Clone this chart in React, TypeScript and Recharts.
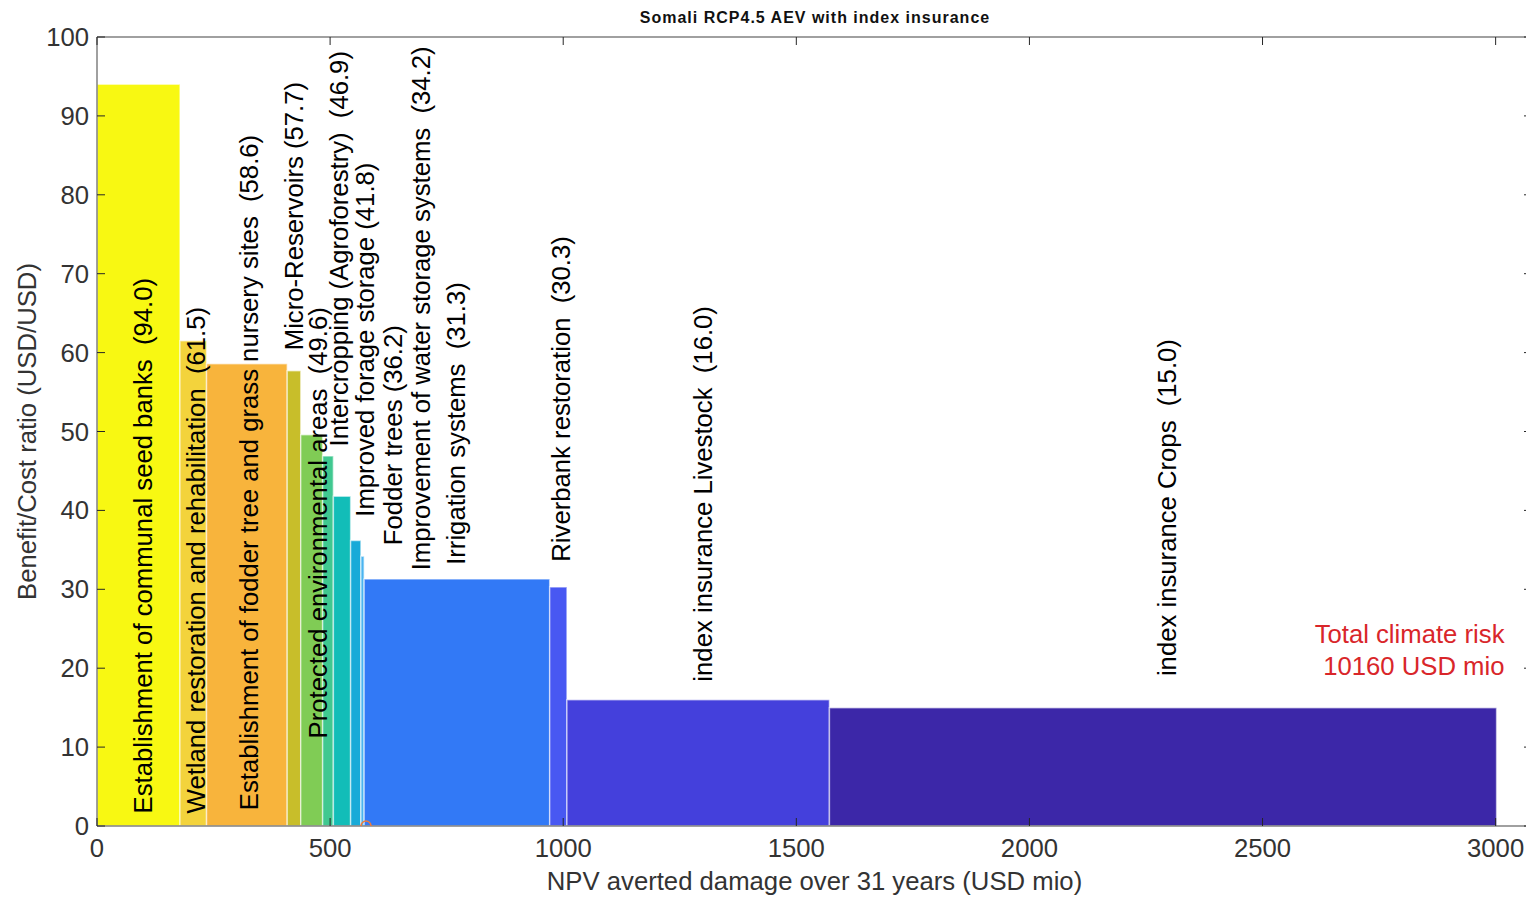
import React from 'react';
import { ComposedChart, XAxis, YAxis, ReferenceArea, ReferenceLine, Scatter } from 'recharts';

const title = 'Somali RCP4.5 AEV with index insurance';

// measures, ordered by benefit/cost ratio
const measures = [
  'Establishment of communal seed banks  (94.0)',
  'Wetland restoration and rehabilitation  (61.5)',
  'Establishment of fodder tree and grass nursery sites  (58.6)',
  'Micro-Reservoirs (57.7)',
  'Protected environmental areas  (49.6)',
  'Intercropping (Agroforestry)  (46.9)',
  'Improved forage storage (41.8)',
  'Fodder trees (36.2)',
  'Improvement of water storage systems  (34.2)',
  'Irrigation systems  (31.3)',
  'Riverbank restoration  (30.3)',
  'index insurance Livestock  (16.0)',
  'index insurance Crops  (15.0)',
];
const bcRatio = [94.0, 61.5, 58.6, 57.7, 49.6, 46.9, 41.8, 36.2, 34.2, 31.3, 30.3, 16.0, 15.0];
// right edge of each block on the averted damage axis (USD mio)
const avertedEnd = [178, 235, 408, 437, 484, 507, 544, 566, 573, 971, 1008, 1571, 3002];
const barColors = [
  '#f8f812', '#f3d33c', '#f8b43c', '#c8be2a', '#80cc55', '#40c890', '#12bdb8',
  '#18aad8', '#4ab4f0', '#3279f6', '#4858f2', '#4440dc', '#3c27a8',
];
// where the rotated label of each measure starts
const labelX = [98, 212, 327, 423, 474, 520, 574, 635, 695, 770, 996, 1300, 2296];
const labelY = [1.6, 1.6, 2.0, 60.3, 11.1, 48.1, 39.2, 35.6, 32.4, 33.1, 33.5, 18.3, 19.0];

const riskLines = ['Total climate risk', '10160 USD mio'];
const riskX = [3019, 3019];
const riskY = [24.3, 20.3];

const markerX = [577];
const markerY = [0];

const xMax = 3078;
const xTicks = [0, 500, 1000, 1500, 2000, 2500, 3000];
const yTicks = [0, 10, 20, 30, 40, 50, 60, 70, 80, 90, 100];

const FONT = '"Liberation Sans", Arial, Helvetica, sans-serif';
const FS = 25.7;
const TICK = 8;

const bars = measures.map((name, i) => ({
  name,
  x1: i === 0 ? 0 : avertedEnd[i - 1],
  x2: avertedEnd[i],
  y: bcRatio[i],
  color: barColors[i],
}));
const labelPoints = measures.map((text, i) => ({ x: labelX[i], y: labelY[i], text }));
const riskPoints = riskLines.map((text, i) => ({ x: riskX[i], y: riskY[i], text }));
const markerPoints = markerX.map((x, i) => ({ x, y: markerY[i] }));

const RotatedLabel = (props: any) => {
  const { cx, cy, payload } = props;
  return (
    <text
      x={cx}
      y={cy}
      transform={`rotate(-90 ${cx} ${cy})`}
      dominantBaseline="central"
      fontSize={FS}
      fontFamily={FONT}
      fill="#000"
      style={{ whiteSpace: 'pre' }}
    >
      {payload.text}
    </text>
  );
};

const RiskLabel = (props: any) => {
  const { cx, cy, payload } = props;
  return (
    <text x={cx} y={cy} textAnchor="end" dominantBaseline="central" fontSize={FS} fontFamily={FONT} fill="#d9262a">
      {payload.text}
    </text>
  );
};

const Ring = (props: any) => (
  <circle cx={props.cx} cy={props.cy} r={5} fill="none" stroke="#f07a3a" strokeWidth={1.5} />
);

// MATLAB style ticks point into the plot box
const BottomTick = ({ x, y, payload }: any) => (
  <g>
    <line x1={x} x2={x} y1={y} y2={y - TICK} stroke="#262626" />
    <text x={x} y={y + 22} textAnchor="middle" dominantBaseline="central" fontSize={FS} fontFamily={FONT} fill="#333">
      {payload.value}
    </text>
  </g>
);
const LeftTick = ({ x, y, payload }: any) => (
  <g>
    <line x1={x} x2={x + TICK} y1={y} y2={y} stroke="#262626" />
    <text x={x - 8} y={y} textAnchor="end" dominantBaseline="central" fontSize={FS} fontFamily={FONT} fill="#333">
      {payload.value}
    </text>
  </g>
);
const TopTick = ({ x, y }: any) => <line x1={x} x2={x} y1={y} y2={y + TICK} stroke="#262626" />;
const RightTick = ({ x, y }: any) => <line x1={x} x2={x - TICK} y1={y} y2={y} stroke="#262626" />;

const axisLine = { stroke: '#808080', strokeWidth: 1.5 };

export default function App() {
  return (
    <div style={{ position: 'relative', width: 1526, height: 890 }}>
      <style>{'html,body{overflow:hidden}'}</style>
      <div
        style={{
          position: 'absolute',
          left: 89,
          width: 1436,
          top: 1,
          textAlign: 'center',
          fontFamily: FONT,
          fontWeight: 'bold',
          fontSize: 16,
          letterSpacing: 1,
          color: '#111',
        }}
      >
        {title}
      </div>
      <ComposedChart width={1526} height={890} margin={{ top: 28, right: 1, bottom: 0, left: 0 }}>
        {bars.map((b) => (
          <ReferenceArea
            key={b.name}
            x1={b.x1}
            x2={b.x2}
            y1={0}
            y2={b.y}
            fill={b.color}
            fillOpacity={1}
            stroke="#ffffff"
            strokeOpacity={0.55}
            strokeWidth={1.5}
            zIndex={-10}
          />
        ))}
        <Scatter data={labelPoints} dataKey="y" shape={RotatedLabel} isAnimationActive={false} />
        <Scatter data={riskPoints} dataKey="y" shape={RiskLabel} isAnimationActive={false} />
        <XAxis
          type="number"
          dataKey="x"
          domain={[0, xMax]}
          ticks={xTicks}
          allowDataOverflow
          height={72}
          axisLine={axisLine}
          tickLine={false}
          tickSize={0}
          tickMargin={0}
          tick={BottomTick}
          zIndex={900}
          label={(p: any) => {
            const vb = p.viewBox;
            return (
              <text
                x={vb.x + vb.width / 2}
                y={vb.y + 64}
                textAnchor="middle"
                fontSize={FS}
                fontFamily={FONT}
                fill="#333"
              >
                NPV averted damage over 31 years (USD mio)
              </text>
            );
          }}
        />
        <XAxis
          xAxisId="top"
          orientation="top"
          type="number"
          dataKey="x"
          domain={[0, xMax]}
          ticks={xTicks}
          allowDataOverflow
          height={1}
          axisLine={axisLine}
          tickLine={false}
          tickSize={0}
          tickMargin={0}
          tick={TopTick}
          zIndex={900}
        />
        <YAxis
          type="number"
          domain={[0, 100]}
          ticks={yTicks}
          allowDataOverflow
          width={89}
          axisLine={axisLine}
          tickLine={false}
          tickSize={0}
          tickMargin={0}
          tick={LeftTick}
          zIndex={900}
          label={(p: any) => {
            const vb = p.viewBox;
            const cx = vb.x + 19;
            const cy = vb.y + vb.height / 2;
            return (
              <text
                x={cx}
                y={cy}
                transform={`rotate(-90 ${cx} ${cy})`}
                textAnchor="middle"
                dominantBaseline="central"
                fontSize={FS}
                fontFamily={FONT}
                fill="#333"
              >
                Benefit/Cost ratio (USD/USD)
              </text>
            );
          }}
        />
        <YAxis
          yAxisId="right"
          orientation="right"
          type="number"
          domain={[0, 100]}
          ticks={yTicks}
          allowDataOverflow
          width={1}
          axisLine={axisLine}
          tickLine={false}
          tickSize={0}
          tickMargin={0}
          tick={RightTick}
          zIndex={900}
        />
        <ReferenceLine x={xMax} stroke="#808080" strokeWidth={1.5} />
        <Scatter data={markerPoints} dataKey="y" shape={Ring} isAnimationActive={false} zIndex={1000} />
        <Scatter
          xAxisId="top"
          yAxisId="right"
          data={markerPoints}
          dataKey="y"
          shape={() => <g />}
          isAnimationActive={false}
        />
      </ComposedChart>
    </div>
  );
}
